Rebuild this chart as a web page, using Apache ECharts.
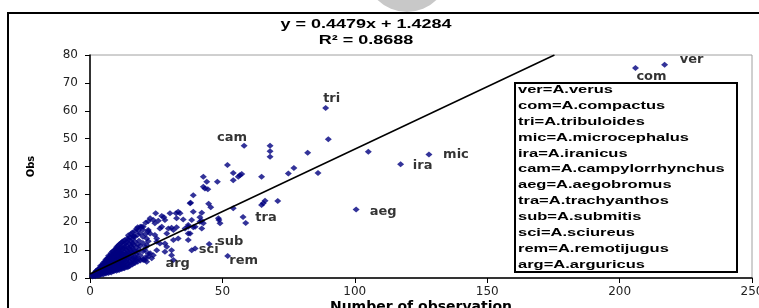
<!DOCTYPE html>
<html>
<head>
<meta charset="utf-8">
<script src="https://cdn.jsdelivr.net/npm/echarts@6/dist/echarts.min.js"></script>
<style>
html, body { margin: 0; padding: 0; background: #fff; }
#main { width: 759px; height: 308px; }
</style>
</head>
<body>
<div id="main"></div>
<script>
const observations = [
    [1, 0.5], [1, 1], [1.2, 1.3], [1.5, 0.8], [1.5, 1.5],
    [2, 0.6], [2, 1], [2, 1.5], [2, 2], [2.2, 2.4],
    [2.5, 1.2], [2.5, 1.8], [2.5, 2.6],
    [3, 0.8], [3, 1.4], [3, 2], [3, 2.6], [3, 3.1],
    [3.5, 1], [3.5, 1.7], [3.5, 2.4], [3.5, 3.3],
    [4, 1.2], [4, 1.9], [4, 2.6], [4, 3.2], [4, 3.9], [4, 4.4],
    [4.5, 1.5], [4.5, 2.2], [4.5, 3], [4.5, 3.7], [4.5, 4.6],
    [5, 1.3], [5, 2], [5, 2.8], [5, 3.4], [5, 4.1], [5, 4.8], [5, 5.4],
    [5.5, 1.8], [5.5, 2.5], [5.5, 3.3], [5.5, 4], [5.5, 5], [5.5, 5.8],
    [6, 1.6], [6, 2.3], [6, 3], [6, 3.8], [6, 4.5], [6, 5.2], [6, 6], [6, 6.6],
    [6.5, 2], [6.5, 2.8], [6.5, 3.6], [6.5, 4.3], [6.5, 5.4], [6.5, 6.3], [6.5, 7],
    [7, 1.8], [7, 2.6], [7, 3.4], [7, 4.1], [7, 4.9], [7, 5.7], [7, 6.5], [7, 7.3], [7, 8],
    [7.5, 2.2], [7.5, 3], [7.5, 4], [7.5, 4.6], [7.5, 5.5], [7.5, 6.2], [7.5, 7], [7.5, 7.8],
    [8, 2], [8, 2.9], [8, 3.7], [8, 4.5], [8, 5.3], [8, 6], [8, 6.8], [8, 7.6], [8, 8.4], [8, 9],
    [8.5, 2.5], [8.5, 3.3], [8.5, 4.2], [8.5, 5], [8.5, 5.8], [8.5, 6.5], [8.5, 7.3], [8.5, 8.2], [8.5, 9.5],
    [9, 2.4], [9, 3.1], [9, 4], [9, 4.8], [9, 5.6], [9, 6.4], [9, 7.1], [9, 7.9], [9, 8.8], [9, 9.8],
    [9.5, 2.8], [9.5, 3.6], [9.5, 4.5], [9.5, 5.3], [9.5, 6.1], [9.5, 7], [9.5, 8.6], [9.5, 10.2],
    [10, 2.6], [10, 3.4], [10, 4.3], [10, 5.1], [10, 6], [10, 6.8], [10, 7.6], [10, 8.4], [10, 9.2], [10, 10.5], [10, 11],
    [10.5, 3], [10.5, 3.9], [10.5, 4.8], [10.5, 6.4], [10.5, 7.2], [10.5, 8], [10.5, 9.7], [10.5, 11.5],
    [11, 2.9], [11, 3.7], [11, 4.6], [11, 5.5], [11, 6.2], [11, 7], [11, 7.9], [11, 8.8], [11, 9.6], [11, 10.4], [11, 12],
    [11.5, 3.3], [11.5, 4.2], [11.5, 5.1], [11.5, 6.7], [11.5, 7.5], [11.5, 9.1], [11.5, 10.9], [11.5, 12.4],
    [12, 3.2], [12, 4], [12, 4.9], [12, 5.8], [12, 6.5], [12, 7.3], [12, 8.2], [12, 9], [12, 10], [12, 11], [12, 12.8],
    [12.5, 3.6], [12.5, 4.5], [12.5, 6.1], [12.5, 7.8], [12.5, 8.6], [12.5, 10.6], [12.5, 13.2],
    [13, 3.5], [13, 5.3], [13, 6.3], [13, 7], [13, 8], [13, 9.4], [13, 11.2], [13, 12], [13, 13.5],
    [13.5, 4], [13.5, 5.8], [13.5, 7.5], [13.5, 8.8], [13.5, 10.2], [13.5, 12.6],
    [14, 3.9], [14, 4.8], [14, 6.6], [14, 8.3], [14, 9.9], [14, 11.6], [14, 13], [14, 14.2],
    [14.5, 5.2], [14.5, 7], [14.5, 9.1], [14.5, 10.8], [14.5, 13.8], [14.5, 15.3],
    [15, 4.3], [15, 6], [15, 7.6], [15, 8.8], [15, 10.5], [15, 12.2], [15, 14.6],
    [15.5, 5.5], [15.5, 8], [15.5, 9.5], [15.5, 11.5], [15.5, 13.2], [15.5, 15.8],
    [16, 4.8], [16, 6.5], [16, 9], [16, 10.8], [16, 12.5], [16, 14], [16, 16.3],
    [16.5, 7.2], [16.5, 10], [16.5, 11.8], [16.5, 15],
    [17, 5.4], [17, 7.6], [17, 9.6], [17, 13], [17, 14.8], [17, 16.8],
    [17.5, 6.2], [17.5, 8.5], [17.5, 11], [17.5, 17.6],
    [18, 5.8], [18, 9.3], [18, 12], [18, 15.5], [18, 18.2],
    [18.5, 7], [18.5, 10.2], [18.5, 13.4],
    [19, 6.3], [19, 8.2], [19, 11.6], [19, 16], [19, 18.4],
    [20, 6.8], [20, 9.6], [20, 12.6], [20, 14.8], [20, 17.2],
    [21, 7.4], [21, 11], [21, 15.8], [21, 19.8],
    [22, 8.8], [22, 13.2], [22, 16.8], [22, 20.4],
    [12.6, 4.7], [14.5, 4], [16.4, 5.3], [16.4, 6.5], [17.6, 7.1], [10.7, 5.8],
    [20.1, 6.5], [20.8, 6.5], [22, 7.6], [23.3, 7.1], [22.7, 8.9], [23.9, 8.2],
    [20.8, 10], [21.4, 11.8], [25.2, 10], [28.3, 9.4], [30.8, 10], [30.8, 8.2], [31.5, 6.5],
    [26.4, 12.4], [29, 11.2], [28.3, 12.4], [25.2, 13], [24.5, 15.4], [25.2, 14.2],
    [16.4, 14.8], [21.4, 14.2], [22.7, 16], [18.3, 17.2], [19.5, 18.4], [20.1, 18.4], [24.5, 19.6],
    [22, 17.2], [26.4, 17.8], [29.6, 17.8], [31.5, 17.2], [35.9, 17.8], [29, 16],
    [37.1, 16], [37.8, 16], [37.1, 13.6], [31.5, 13.6], [33.3, 14.2], [39.7, 10.6],
    [27.1, 18.4], [30.8, 18], [32.7, 18.2], [37.1, 18.4], [39, 18.2], [37.1, 19], [39.7, 18.4], [42.2, 17.8],
    [22.7, 21.4], [23.9, 20.8], [25.8, 20.5], [27.1, 22.2], [27.9, 21.8], [28.3, 20.8], [24.8, 23.2], [30.2, 23.2],
    [32.5, 23.2], [33.3, 23.8], [34, 23.2], [32.7, 21.4], [35.2, 21], [38.4, 20.8],
    [39, 23.8], [42.2, 23.4], [41.5, 21.8], [42.2, 20.5], [42.8, 19.6], [41.5, 20.2],
    [48.7, 20.8], [49.1, 19.6], [48.5, 21.4], [58.8, 19.7],
    [38, 27], [37.8, 26.8], [39, 29.7], [44.8, 26.6], [45.6, 25.4], [54.1, 25],
    [42.8, 36.3], [44.1, 34.5], [48.1, 34.5], [42.8, 32.7], [43.4, 32.1], [44.5, 31.8],
    [51.9, 40.5], [54.1, 37.7], [54.1, 35.1], [56.6, 36.9], [56, 36.3], [57.3, 37.3],
    [64.8, 36.3], [74.9, 37.5], [77, 39.5], [86.1, 37.7],
    [66.1, 27.7], [64.8, 26.2], [70.9, 27.6], [65.4, 26.8],
    [68, 47.4], [68, 45.5], [68, 43.5], [82.2, 44.9], [90, 49.8], [105.1, 45.3]
];

// labelled species points
const speciesCodes = ['ver', 'com', 'tri', 'mic', 'ira', 'cam', 'aeg', 'tra', 'sub', 'sci', 'rem', 'arg'];
const speciesNames = ['A.verus', 'A.compactus', 'A.tribuloides', 'A.microcephalus', 'A.iranicus',
    'A.campylorrhynchus', 'A.aegobromus', 'A.trachyanthos', 'A.submitis', 'A.sciureus',
    'A.remotijugus', 'A.arguricus'];
const speciesX = [217, 206, 89, 128, 117.3, 58.2, 100.5, 57.8, 45, 38.4, 52, 21.4];
const speciesY = [76.5, 75.3, 61, 44.3, 40.8, 47.4, 24.6, 21.9, 12.2, 10, 7.9, 5.8];

// linear trend line end points
const trendX = [0, 175.4];
const trendY = [1.4284, 80];
const equationLines = ['y = 0.4479x + 1.4284', 'R² = 0.8688'];

// where each species code sits next to its marker (px)
const labelOffset = {
    ver: [27, -5], com: [16, 9], tri: [6, -9], mic: [27, 0], ira: [22, 1], cam: [-12, -8],
    aeg: [27, 2], tra: [23, 1], sub: [21, -2], sci: [17, -1], rem: [16, 5], arg: [31, 2]
};

const chartDom = document.getElementById('main');
const myChart = echarts.init(chartDom);

const markColor = '#000080';
const labelFont = 'DejaVu Sans';

const speciesData = speciesCodes.map(function (code, i) {
    return {
        name: code,
        value: [speciesX[i], speciesY[i]],
        label: { offset: labelOffset[code] }
    };
});

const legendText = speciesCodes.map(function (code, i) {
    return code + '=' + speciesNames[i];
}).join('\n');

const option = {
    animation: false,
    backgroundColor: '#fff',
    grid: {
        left: 90, right: 7, top: 55, bottom: 30,
        outerBoundsMode: 'none',
        containLabel: false,
        show: true, borderColor: '#a0a0a0', borderWidth: 1
    },
    xAxis: {
        type: 'value',
        min: 0, max: 250, interval: 50,
        name: 'Number of observation',
        nameLocation: 'middle',
        nameGap: 22,
        nameMoveOverlap: false,
        nameTextStyle: { fontFamily: labelFont, fontWeight: 'bold', fontSize: 14, color: '#000' },
        axisLine: { show: true, onZero: false, lineStyle: { color: '#000', width: 1.5 } },
        axisTick: { show: true, length: 5, lineStyle: { color: '#000' } },
        axisLabel: { fontFamily: labelFont, fontSize: 12, color: '#222', margin: 8 },
        splitLine: { show: false }
    },
    yAxis: {
        type: 'value',
        min: 0, max: 80, interval: 10,
        name: 'Obs',
        nameLocation: 'middle',
        nameRotate: 90,
        nameGap: 54,
        nameMoveOverlap: false,
        nameTextStyle: { fontFamily: labelFont, fontWeight: 'bold', fontSize: 10, color: '#000' },
        axisLine: { show: true, onZero: false, lineStyle: { color: '#000', width: 1.5 } },
        axisTick: { show: true, length: 5, lineStyle: { color: '#000' } },
        axisLabel: { fontFamily: labelFont, fontSize: 12, color: '#222', margin: 12 },
        splitLine: { show: false }
    },
    series: [
        {
            type: 'scatter',
            data: observations,
            symbol: 'diamond',
            symbolSize: [7, 6],
            itemStyle: { color: markColor },
            silent: true,
            z: 3
        },
        {
            type: 'scatter',
            data: speciesData,
            symbol: 'diamond',
            symbolSize: [7, 6],
            itemStyle: { color: markColor },
            label: {
                show: true,
                position: 'inside',
                formatter: '{b}',
                fontFamily: labelFont,
                fontWeight: 'bold',
                fontSize: 13,
                color: '#000'
            },
            silent: true,
            z: 3
        },
        {
            type: 'line',
            data: trendX.map(function (x, i) { return [x, trendY[i]]; }),
            symbol: 'none',
            lineStyle: { color: '#000', width: 1.5 },
            silent: true,
            z: 4
        }
    ],
    graphic: [
        {
            type: 'rect', silent: true, z: -10,
            shape: { x: 8, y: 13, width: 800, height: 400 },
            style: { fill: 'none', stroke: '#000', lineWidth: 2 }
        },
        {
            type: 'circle', silent: true, z: 10,
            shape: { cx: 407, cy: -30, r: 42 },
            style: { fill: '#c8c8c8' }
        },
        {
            type: 'text', silent: true, x: 366, y: 25, scaleX: 1.5,
            style: {
                text: equationLines[0], font: 'bold 12px "Liberation Sans"', fill: '#000',
                textAlign: 'center', textVerticalAlign: 'middle'
            }
        },
        {
            type: 'text', silent: true, x: 366, y: 41, scaleX: 1.5,
            style: {
                text: equationLines[1], font: 'bold 12px "Liberation Sans"', fill: '#000',
                textAlign: 'center', textVerticalAlign: 'middle'
            }
        },
        {
            type: 'rect', silent: true, z: 20,
            shape: { x: 515, y: 83, width: 222, height: 189 },
            style: { fill: '#fff', stroke: '#000', lineWidth: 2 }
        },
        {
            type: 'text', silent: true, z: 21, x: 518, y: 82, scaleX: 1.5,
            style: {
                text: legendText, font: 'bold 11px "Liberation Sans"', fill: '#000',
                lineHeight: 15.9, textAlign: 'left', textVerticalAlign: 'top'
            }
        }
    ]
};

option && myChart.setOption(option);
</script>
</body>
</html>
